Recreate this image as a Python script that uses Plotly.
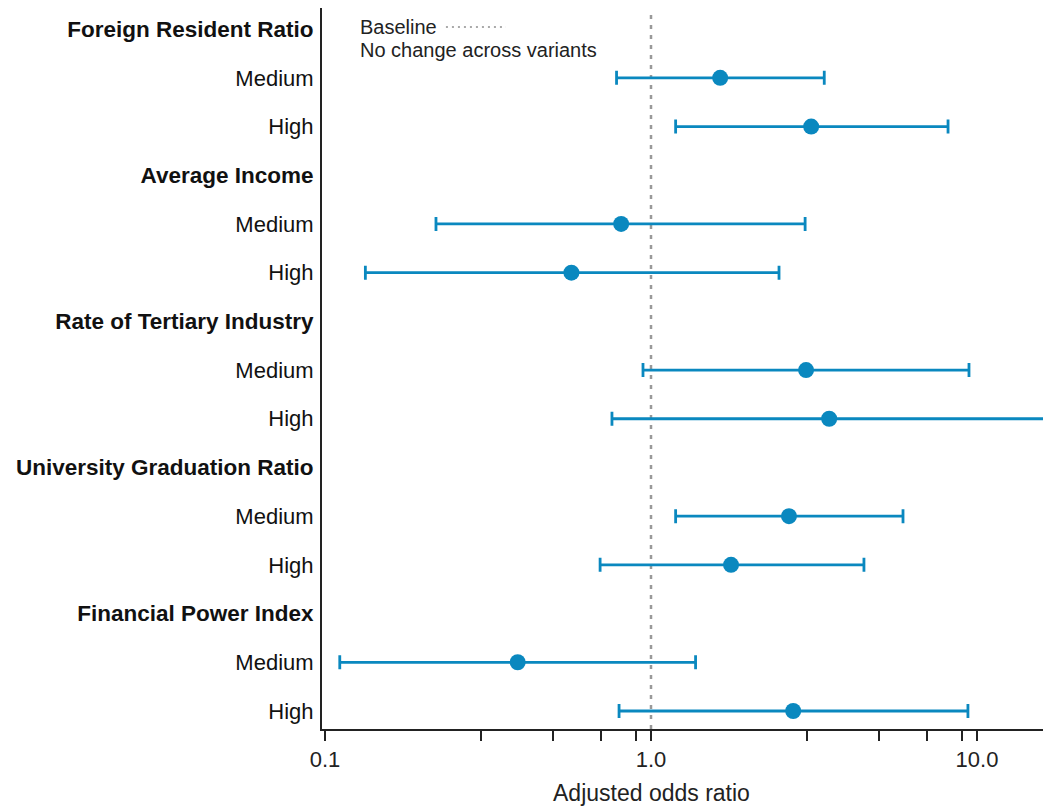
import plotly.graph_objects as go

# ---- data ----
groups = ["Foreign Resident Ratio", "Average Income", "Rate of Tertiary Industry",
          "University Graduation Ratio", "Financial Power Index"]
levels = ["Medium", "High"]
odds_ratio = [1.63, 3.10, 0.81, 0.57, 2.99, 3.52, 2.65, 1.76, 0.39, 2.73]
ci_lower = [0.784, 1.19, 0.219, 0.133, 0.945, 0.759, 1.19, 0.698, 0.111, 0.798]
ci_upper = [3.40, 8.15, 2.97, 2.47, 9.45, 16.2, 5.93, 4.50, 1.37, 9.38]
baseline = 1.0
x_tickvals = [0.1, 1.0, 10.0]
x_ticktext = ["0.1", "1.0", "10.0"]
x_minor = [0.3, 0.5, 0.7, 0.9, 3, 5, 7, 9]
x_title = "Adjusted odds ratio"
legend_lines = ["Baseline", "No change across variants"]

# ---- row layout ----
row_labels, row_pos, pt_pos = [], [], []
i = 0
for g in groups:
    row_labels.append('<b><span style="font-size:22.5px">' + g + "</span></b>")
    row_pos.append(i)
    i += 1
    for lv in levels:
        row_labels.append(lv)
        row_pos.append(i)
        pt_pos.append(i)
        i += 1

err_plus = [u - o for u, o in zip(ci_upper, odds_ratio)]
err_minus = [o - l for o, l in zip(odds_ratio, ci_lower)]

BLUE = "#0A88BF"
FONT = "Liberation Sans, Arial, sans-serif"
W, H = 1043, 799          # page has an 8px body margin
ML, MB = 314, 78
PH = H - MB               # plot height in px

fig = go.Figure()
fig.add_trace(go.Scatter(
    x=odds_ratio, y=pt_pos, mode="markers",
    marker=dict(size=16, color=BLUE, line=dict(width=0)),
    error_x=dict(type="data", symmetric=False, array=err_plus, arrayminus=err_minus,
                 color=BLUE, thickness=2.8, width=7),
    showlegend=False, hoverinfo="skip"))

fig.add_shape(type="line", xref="x", yref="paper", x0=baseline, x1=baseline, y0=0,
              y1=1 - 4 / PH, line=dict(color="#999999", width=2.5, dash="4px,6px"),
              layer="below")

# legend (text with sample to the right)
fig.add_annotation(xref="paper", yref="paper", x=0.0494, y=1, yshift=-19, xanchor="left",
                   yanchor="middle", text=legend_lines[0], showarrow=False,
                   font=dict(size=20, color="#222222", family=FONT))
fig.add_annotation(xref="paper", yref="paper", x=0.0494, y=1, yshift=-42, xanchor="left",
                   yanchor="middle", text=legend_lines[1], showarrow=False,
                   font=dict(size=20, color="#222222", family=FONT))
fig.add_shape(type="line", xref="paper", yref="paper", x0=0.170, x1=0.2524,
              y0=1 - 19 / PH, y1=1 - 19 / PH,
              line=dict(color="#aaaaaa", width=2, dash="2px,4px"))

# x-axis title centred under 1.0
fig.add_annotation(xref="x", yref="paper", x=0, y=0, yshift=-64, xanchor="center",
                   yanchor="middle", text=x_title, showarrow=False,
                   font=dict(size=23, color="#222222", family=FONT))

fig.update_xaxes(type="log", range=[-1.0092, 1.227], tickvals=x_tickvals, ticktext=x_ticktext,
                 ticks="outside", ticklen=10, tickwidth=2, tickcolor="#222222",
                 showline=True, linewidth=2, linecolor="#222222", showgrid=False, zeroline=False,
                 tickfont=dict(size=22, color="#222222", family=FONT),
                 minor=dict(tickvals=x_minor, ticks="outside", ticklen=10, tickwidth=2,
                            tickcolor="#222222", showgrid=False))
fig.update_yaxes(range=[14.37, -0.434], tickvals=row_pos, ticktext=row_labels,
                 ticks="", showline=True, linewidth=2, linecolor="#222222",
                 showgrid=False, zeroline=False, ticklabelstandoff=2,
                 tickfont=dict(size=22, color="#111111", family=FONT))

fig.update_layout(width=W, height=H, margin=dict(l=ML, r=0, t=0, b=MB),
                  plot_bgcolor="white", paper_bgcolor="white",
                  font=dict(family=FONT, color="#222222"))

fig.write_html("out.html")
